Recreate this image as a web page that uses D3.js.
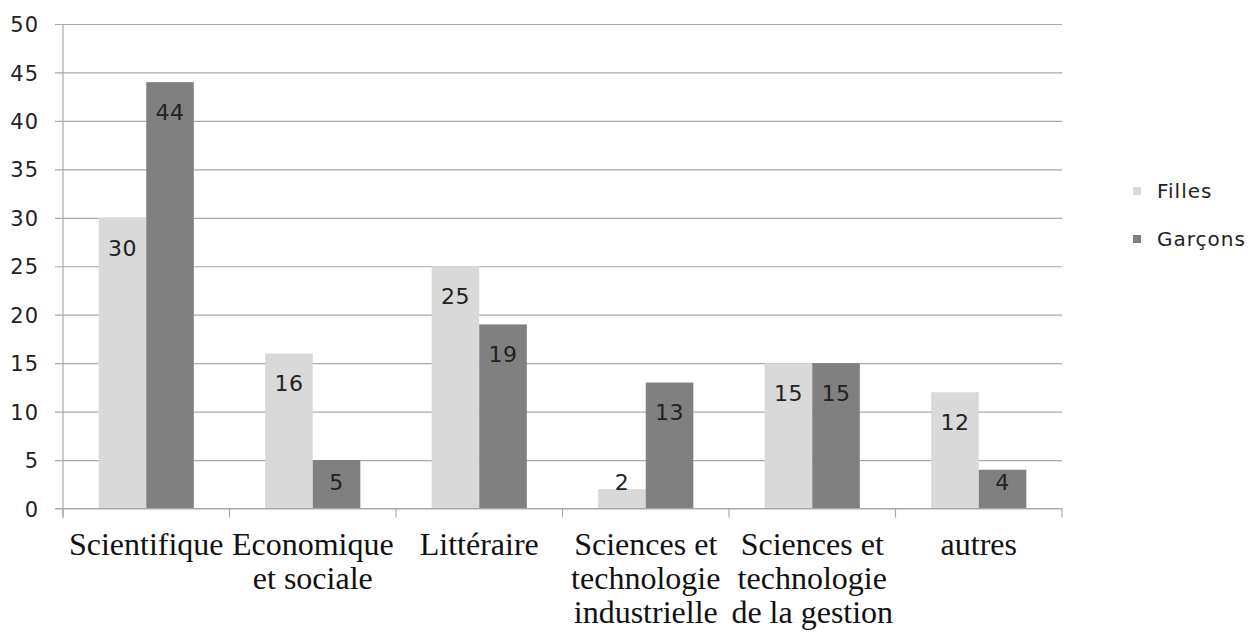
<!DOCTYPE html>
<html>
<head>
<meta charset="utf-8">
<script src="https://cdn.jsdelivr.net/npm/d3@7"></script>
<style>
  html, body { margin: 0; padding: 0; background: #fff; }
  svg { display: block; }
</style>
</head>
<body>
<svg id="chart" width="1255" height="634"></svg>
<script>
const categories = [
  "Scientifique",
  "Economique\net sociale",
  "Littéraire",
  "Sciences et\ntechnologie\nindustrielle",
  "Sciences et\ntechnologie\nde la gestion",
  "autres"
];
const seriesNames = ["Filles", "Garçons"];
const filles = [30, 16, 25, 2, 15, 12];
const garcons = [44, 5, 19, 13, 15, 4];
const yTicks = [0, 5, 10, 15, 20, 25, 30, 35, 40, 45, 50];
const colors = ["#d9d9d9", "#808080"];

(function () {
const svg = d3.select("#chart");
const pLeft = 63, pRight = 1062, pTop = 24, pBottom = 508.5;
const gridColor = "#a8a8a8";

const x0 = d3.scaleBand().domain(categories).range([pLeft, pRight]).paddingInner(0).paddingOuter(0);
const x1 = d3.scaleBand().domain(seriesNames).range([0, x0.bandwidth()]).paddingInner(0).paddingOuter(0.75);
const y = d3.scaleLinear().domain([0, 50]).range([pBottom, pTop]);

// gridlines + y tick labels
const yAxis = d3.axisLeft(y).tickValues(yTicks).tickSize(0).tickPadding(0).tickFormat(d3.format("d"));
const gy = svg.append("g").attr("transform", `translate(${pLeft},0)`);
gy.call(yAxis);
gy.select(".domain").remove();
gy.selectAll(".tick line")
  .attr("x1", -8).attr("x2", pRight - pLeft)
  .attr("stroke", gridColor).attr("stroke-width", 1.2);
gy.selectAll(".tick text")
  .attr("x", -24).attr("dy", "0.36em")
  .attr("fill", "#222")
  .style("font-family", "'DejaVu Sans', sans-serif")
  .style("font-size", "21px")
  .style("letter-spacing", "1px");

// vertical axis line
svg.append("line")
  .attr("x1", pLeft).attr("x2", pLeft).attr("y1", pTop).attr("y2", pBottom + 9)
  .attr("stroke", gridColor).attr("stroke-width", 1.2);

// x axis ticks at category boundaries
const boundaries = categories.map(c => x0(c)).concat([pRight]);
svg.append("g").selectAll("line").data(boundaries).join("line")
  .attr("x1", d => d).attr("x2", d => d)
  .attr("y1", pBottom).attr("y2", pBottom + 9)
  .attr("stroke", gridColor).attr("stroke-width", 1.2);

// bars
const data = categories.map((c, i) => ({cat: c, vals: [filles[i], garcons[i]]}));
const groups = svg.append("g").selectAll("g").data(data).join("g")
  .attr("transform", d => `translate(${x0(d.cat)},0)`);

groups.selectAll("rect").data(d => d.vals.map((v, j) => ({s: seriesNames[j], v, j}))).join("rect")
  .attr("x", d => x1(d.s))
  .attr("width", x1.bandwidth())
  .attr("y", d => y(d.v))
  .attr("height", d => y(0) - y(d.v))
  .attr("fill", d => colors[d.j]);

// zero line on top of bars
svg.append("line")
  .attr("x1", pLeft - 8).attr("x2", pRight).attr("y1", y(0)).attr("y2", y(0))
  .attr("stroke", gridColor).attr("stroke-width", 1.2);

// data labels
groups.selectAll("text.val").data(d => d.vals.map((v, j) => ({s: seriesNames[j], v, j}))).join("text")
  .attr("class", "val")
  .attr("x", d => x1(d.s) + x1.bandwidth() / 2)
  .attr("y", d => Math.min(y(d.v) + 30, y(0) - 26))
  .attr("dy", "0.36em")
  .attr("text-anchor", "middle")
  .attr("fill", "#222")
  .style("font-family", "'DejaVu Sans', sans-serif")
  .style("font-size", "22px")
  .style("letter-spacing", "0.5px")
  .text(d => d.v);

// category labels
const catLabels = svg.append("g").selectAll("text").data(categories).join("text")
  .attr("x", d => x0(d) + x0.bandwidth() / 2)
  .attr("y", 555)
  .attr("text-anchor", "middle")
  .attr("fill", "#111")
  .style("font-family", "'Liberation Serif', 'Times New Roman', serif")
  .style("font-size", "32px");
catLabels.each(function(d) {
  const t = d3.select(this);
  d.split("\n").forEach((line, i) => {
    t.append("tspan")
      .attr("x", x0(d) + x0.bandwidth() / 2)
      .attr("dy", i === 0 ? 0 : 34)
      .text(line);
  });
});

// legend
const legend = svg.append("g").selectAll("g").data(seriesNames).join("g")
  .attr("transform", (d, i) => `translate(1133, ${191 + i * 48})`);
legend.append("rect")
  .attr("x", 0).attr("y", -4).attr("width", 8).attr("height", 8)
  .attr("fill", (d, i) => colors[i]);
legend.append("text")
  .attr("x", 24).attr("y", 0).attr("dy", "0.36em")
  .attr("fill", "#222")
  .style("font-family", "'DejaVu Sans', sans-serif")
  .style("font-size", "20px")
  .style("letter-spacing", "1px")
  .text(d => d);
})();
</script>
</body>
</html>
